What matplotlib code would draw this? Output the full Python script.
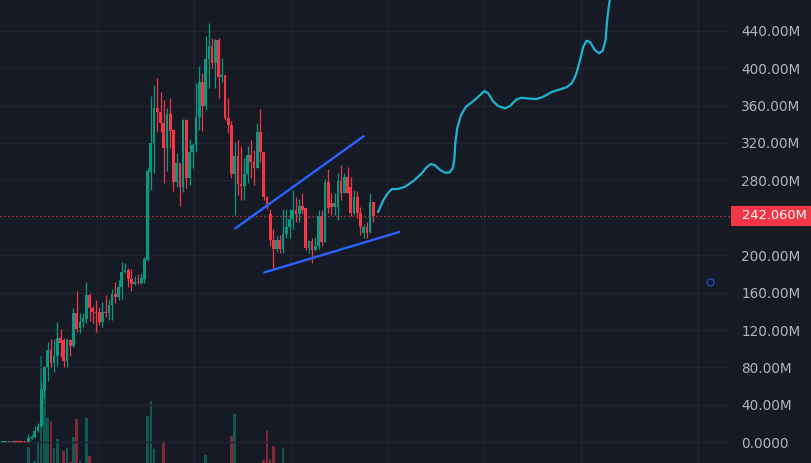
import numpy as np
import matplotlib
matplotlib.use("Agg")
import matplotlib.pyplot as plt
from matplotlib import transforms
from matplotlib.patches import Rectangle

# OHLC per bar, values in millions
opens = [0.2, 0.4, 1.0, 0.3, 1.0, 1.0, 1.0, 1.0,
         0.5, 4.6, 5.7, 12, 17.4, 55.9, 80.5, 98.7, 84.8, 92.2, 111.5, 109.4,
         87.2, 109.4, 102.9, 138.2, 122.2, 128.9, 131.8, 157.4, 143.9, 139.6,
         139.6, 128.9, 139.4, 138.6, 146.8, 158.5, 155.6, 165.7, 181.7, 184.2,
         174.2, 169.2, 171.7, 170.3, 174.2, 194.9, 289.2, 319.6, 357, 353.4,
         341, 314.3, 350.9, 333.8, 278.6, 298.2, 272.6, 344.5, 282.2, 310,
         317.8, 348, 385.4, 359.8, 409.7, 423.6, 405.1, 430, 390.8, 392.6,
         347, 339.2, 286.5, 306.3, 275.8, 274.3, 286.5, 307.1, 299.3, 293.5,
         332, 310, 262.5, 244, 216.2, 206.6, 216.2, 206.6, 222.6, 230.5,
         238.4, 248.3, 244, 252.6, 250.1, 207.4, 215.5, 205.5, 209.8, 241.9,
         214.4, 278.6, 255.5, 251.2, 251.7, 279.3, 266.2, 283.3, 272.6, 244.8,
         261.9, 244.8, 224, 230.5, 225.1, 257.2]
highs = [1.2, 1.3, 1.3, 1.3, 1.3, 1.3, 1.3, 1.3,
         8.9, 8, 17.8, 20.6, 66.6, 82, 107.5, 110.4, 110, 128.6, 121.1, 111,
         111.8, 110, 143.2, 161.7, 138.2, 138.2, 171, 159.9, 145.7, 152.1,
         145, 150.3, 157.4, 152.8, 163.9, 171, 173.8, 193, 191.7, 186.6,
         185.2, 177.8, 179.9, 181, 198, 292.9, 370.2, 381.9, 389.1, 374.1,
         365.9, 357.7, 367.7, 333.8, 308.9, 298.2, 346, 346, 323.9, 319.6,
         383.7, 402.2, 394.4, 434.6, 447.9, 431.8, 431.1, 431.8, 410.5, 392.6,
         368, 343.4, 320.7, 323.1, 316.7, 303.6, 316.7, 323.1, 312.4, 341.6,
         356.3, 310, 263.3, 249.4, 228, 221, 222, 249.4, 249.4, 249.4,
         269.7, 262.5, 260, 266.2, 250.1, 216.5, 218, 219.5, 248.3, 248.3,
         281.1, 291.8, 266, 266, 287.5, 296.4, 287.5, 293.9, 283.3, 269.7,
         268.5, 251.2, 233, 235, 266, 257.2]
lows = [0.0, 0.2, 0.1, 0.1, 0.1, 0.1, 0.1, 0.1,
        0, 4, 5, 11, 16, 47.4, 65.8, 80.5, 75.5, 81.6, 91.5, 80.5,
        80.5, 92.2, 101.9, 118.2, 117.2, 123.6, 127.5, 130, 127.5, 118.2,
        125.4, 123.6, 134, 130.7, 130.7, 148.6, 152.1, 153.2, 181, 165.7,
        162, 168, 169, 169, 170, 194, 269.7, 288.2, 332, 332,
        277.5, 290.3, 314.3, 268.9, 273.2, 252.9, 267.9, 271.5, 275, 292.9,
        310, 333.8, 333.1, 355, 378.4, 399.8, 378.4, 368.3, 385, 345,
        330.3, 282.2, 243, 264.3, 259, 259, 276.8, 282.2, 275, 293.5,
        299.9, 259, 249, 210, 186, 203, 202.3, 202.3, 218, 218.4,
        228, 236, 236, 244, 205.5, 202.7, 192, 204, 207, 210,
        214.4, 245, 243, 243, 237.6, 259, 266.2, 266.2, 242, 243,
        240, 221.6, 218, 218.1, 224, 236]
closes = [1.0, 1.0, 0.3, 1.0, 0.3, 0.3, 0.3, 0.3,
          4.6, 5.7, 12, 17.4, 57, 80.5, 98.7, 84.8, 92.2, 111.5, 106.5, 87.2,
          109.4, 102.9, 138.2, 121.4, 128.9, 132.5, 157.4, 143.2, 139.6, 137.9,
          128.9, 139, 138.6, 146.8, 158.5, 155.6, 165.7, 181.7, 184.2, 174.2,
          169.2, 171.7, 170.3, 175.3, 195.9, 290, 319.6, 357, 353.4, 341,
          314.3, 350.9, 333.1, 278.6, 298.2, 272.6, 344.5, 282.2, 310, 317.8,
          348, 385.4, 359.8, 409.7, 423.6, 405.1, 430, 390.8, 392.6, 347,
          339.2, 286.5, 306.3, 275.8, 274.3, 286.5, 307.1, 299.3, 293.5, 332,
          310, 262.5, 253.6, 216.2, 206.6, 216.2, 206.6, 222.6, 230.5, 238.4,
          248.3, 244, 252.6, 248.3, 207.4, 215.5, 205.5, 209.8, 241.9, 214.4,
          278.6, 250.1, 251.2, 256.1, 279.3, 266.2, 283.3, 266.2, 244.8, 261.9,
          244.8, 230.5, 230.5, 224, 257.2, 242.06]

# volume (sparse: bar index, value, direction)
vol_idx = [8, 10, 11, 12, 13, 14, 15, 16, 17, 19, 20, 21, 22, 23, 24, 26, 27,
           45, 46, 47, 50, 63, 71, 72, 81, 82, 83, 84, 87]
vol_val = [1.6, 0.2, 2.2, 10.7, 8.3, 4.5, 4.2, 1.5, 2.4, 1.2, 1.5, 0.13, 2.6,
           4.4, 0.2, 4.5, 0.7, 4.7, 6.2, 1.4, 2.2, 0.8, 2.7, 4.9, 0.3, 3.2,
           0.43, 1.7, 1.5]
vol_up = [1, 1, 1, 1, 1, 1, 0, 1, 1, 0, 1, 0, 1, 0, 1, 1, 0,
          1, 1, 1, 0, 1, 0, 1, 0, 0, 0, 0, 1]

# projected path (bar index, price M)
proj_x = [116.5, 118.1, 119.6, 120.8, 122.7, 124.8, 127.4, 130.0, 131.5, 132.9,
          134.1, 135.7, 137.2, 138.5, 139.6, 140.1, 140.4, 141.0, 142.2, 143.7,
          146.0, 148.1, 149.4, 150.6, 152.2, 153.7, 155.8, 157.4, 159.4, 161.0,
          163.6, 165.6, 167.7, 170.3, 172.9, 174.9, 176.5, 177.8, 179.1, 180.1,
          181.1, 182.2, 183.7, 185.0, 186.1, 187.0, 187.5, 188.0, 188.3]
proj_y = [246.5, 258.9, 266.8, 270.8, 270.8, 273.2, 279.3, 287.5, 294.0, 297.5,
          296.1, 291.1, 288.2, 288.2, 292.9, 301.7, 319.6, 335.6, 349.9, 358.7,
          364.8, 371.2, 375.5, 373.0, 364.1, 359.5, 357.0, 359.5, 366.6, 368.3,
          367.3, 367.0, 369.4, 374.4, 377.3, 379.5, 383.7, 392.6, 408.6, 422.9,
          429.3, 427.9, 419.3, 415.8, 418.6, 430.0, 451.4, 465.6, 472.8]

# drawn trendlines
upper_x = [71.9, 112.2]
upper_y = [228.0, 327.7]
lower_x = [80.9, 123.3]
lower_y = [181.3, 225.1]

marker_x = [219.5]
marker_y = [171.0]

price_ticks = list(range(0, 441, 40))
time_grid = [29.3, 59.4, 89.5, 119.2, 149.3, 179.4, 215.7]

BG = "#161a25"
GRID = "#20242f"
UP = "#089981"
DOWN = "#f23645"
TXT = "#b2b5be"

fig = plt.figure(figsize=(8.12, 4.63), dpi=100, facecolor=BG)
ax = fig.add_axes([0, 0, 731 / 812, 1])
vax = ax.twinx()
vax.set_zorder(ax.get_zorder() - 1)
ax.patch.set_visible(False)
vax.patch.set_visible(False)

o = np.array(opens)
c = np.array(closes)
h = np.array(highs)
l = np.array(lows)
x = np.arange(len(o))
up = c >= o
cols = np.where(up, UP, DOWN)

ax.vlines(x, l, h, colors=cols, lw=0.9, zorder=3)
ax.bar(x, np.maximum(np.abs(c - o), 0.9), bottom=np.minimum(o, c), width=0.84,
       color=cols, linewidth=0, zorder=4)

vcols = [UP if u else DOWN for u in vol_up]
vax.bar(vol_idx, vol_val, width=0.8, color=vcols, alpha=0.5, linewidth=0)
vax.set_ylim(0, 46.3)
vax.set_yticks([])
for s in vax.spines.values():
    s.set_visible(False)

ax.plot(upper_x, upper_y, color="#2962ff", lw=1.7, solid_capstyle="butt", zorder=5)
ax.plot(lower_x, lower_y, color="#2962ff", lw=1.7, solid_capstyle="butt", zorder=5)
ax.plot(proj_x, proj_y, color="#1fb3cf", lw=1.6, zorder=5)
ax.plot(marker_x, marker_y, "o", mfc="none", mec="#2448b8", ms=5, mew=1)

last = closes[-1]
ax.axhline(last, color=DOWN, lw=0.9, ls=(0, (1, 2.2)), zorder=2)

ax.set_xlim(-0.775, 225.9)
ax.set_ylim(-22.1, 472.8)

# the 240M label sits under the last-price box, so it is left blank
ax.set_yticks(price_ticks)
ax.set_yticklabels(["0.0000" if v == 0 else ("" if v == 240 else f"{v:.2f}M")
                    for v in price_ticks])
ax.yaxis.tick_right()
ax.tick_params(axis="y", length=0, pad=7.5, labelcolor=TXT, labelsize=9.8)
ax.set_xticks(time_grid)
ax.tick_params(axis="x", length=0, labelbottom=False)
ax.grid(True, color=GRID, lw=1)
ax.set_axisbelow(True)
for s in ax.spines.values():
    s.set_visible(False)

# last price label on the scale
tr = transforms.blended_transform_factory(ax.transAxes, ax.transData)
ax.add_patch(Rectangle((1.0, last - 10.3), 81 / 731, 20.6, transform=tr,
                       facecolor=DOWN, edgecolor="none", clip_on=False, zorder=6))
ax.text(1.0 + 11 / 731, last, f"{last:.3f}M", transform=tr, ha="left",
        va="center", color="white", fontsize=9.4, zorder=7, clip_on=False)

fig.savefig("out.png", dpi=100, facecolor=BG)
